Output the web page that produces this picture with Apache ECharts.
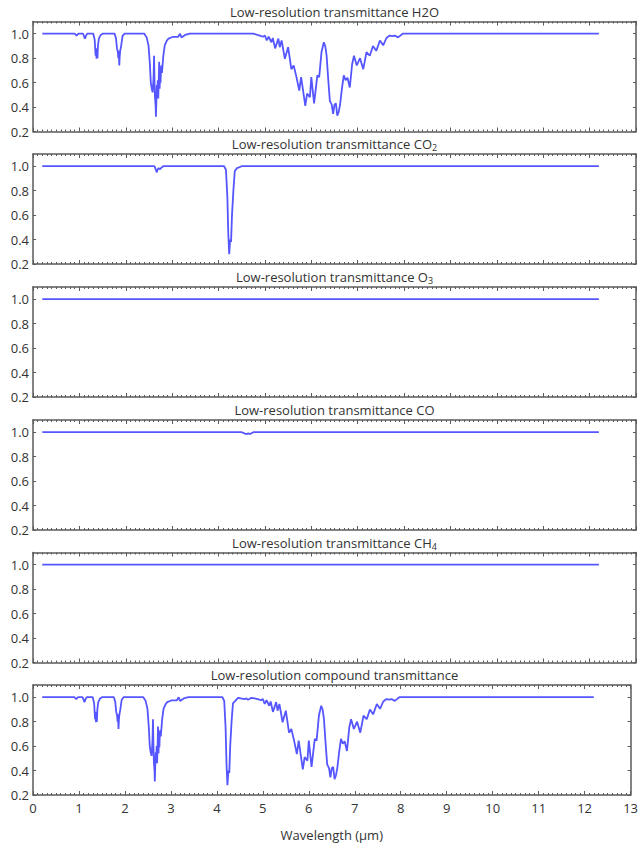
<!DOCTYPE html>
<html>
<head>
<meta charset="utf-8">
<script src="https://cdn.jsdelivr.net/npm/echarts@6/dist/echarts.min.js"></script>
<style>
html,body{margin:0;padding:0;background:#fff;}
#chart{width:641px;height:844px;}
</style>
</head>
<body>
<div id="chart"></div>
<script>
// ---- data ----
const panelTitles = [
  'Low-resolution transmittance H2O',
  'Low-resolution transmittance CO{sub|2}',
  'Low-resolution transmittance O{sub|3}',
  'Low-resolution transmittance CO',
  'Low-resolution transmittance CH{sub|4}',
  'Low-resolution compound transmittance'
];
const xTickLabels = ['0','1','2','3','4','5','6','7','8','9','10','11','12','13'];
const yTickLabels = ['0.2','0.4','0.6','0.8','1.0'];
const xAxisTitle = 'Wavelength (\u00b5m)';

const h2o = [
  [0.2,1.0],[0.9,1.0],[0.94,0.985],[0.98,1.0],[1.08,1.0],[1.12,0.96],[1.15,0.99],[1.17,1.0],
  [1.30,1.0],[1.33,0.95],[1.35,0.82],[1.36,0.88],[1.37,0.795],[1.38,0.86],[1.39,0.80],[1.40,0.9],[1.42,0.96],[1.46,0.99],[1.5,1.0],
  [1.76,1.0],[1.79,0.96],[1.81,0.88],[1.83,0.85],[1.84,0.80],[1.85,0.86],[1.86,0.74],[1.87,0.82],[1.88,0.86],[1.90,0.90],[1.93,0.98],[1.97,1.0],
  [2.40,1.0],[2.45,0.97],[2.49,0.905],[2.52,0.75],[2.54,0.60],[2.56,0.55],[2.58,0.52],[2.60,0.65],[2.61,0.82],[2.62,0.60],[2.63,0.48],[2.645,0.40],[2.65,0.32],[2.66,0.45],[2.67,0.58],[2.68,0.50],[2.69,0.62],[2.70,0.47],[2.71,0.60],[2.72,0.77],[2.73,0.55],[2.74,0.66],[2.75,0.60],[2.76,0.72],[2.77,0.74],[2.78,0.68],[2.81,0.82],[2.84,0.905],[2.88,0.94],[2.92,0.96],[3.02,0.975],[3.13,0.975],[3.17,1.0],[3.20,0.97],[3.24,0.98],[3.28,0.99],[3.38,1.0],
  [4.75,1.0],[4.89,0.985],[4.96,0.975],[5.0,0.985],[5.04,0.945],[5.08,0.975],[5.14,0.93],[5.17,0.965],[5.22,0.88],[5.29,0.96],[5.32,0.89],[5.36,0.945],[5.43,0.795],[5.5,0.89],[5.57,0.71],[5.62,0.74],[5.68,0.645],[5.74,0.535],[5.78,0.645],[5.84,0.49],[5.87,0.41],[5.91,0.51],[5.97,0.48],[6.0,0.645],[6.06,0.43],[6.13,0.66],[6.17,0.645],[6.22,0.85],[6.27,0.93],[6.30,0.90],[6.33,0.82],[6.37,0.60],[6.40,0.45],[6.44,0.42],[6.47,0.345],[6.50,0.42],[6.53,0.43],[6.56,0.33],[6.59,0.36],[6.62,0.42],[6.66,0.55],[6.70,0.66],[6.74,0.62],[6.78,0.64],[6.83,0.56],[6.88,0.75],[6.92,0.82],[6.98,0.74],[7.05,0.80],[7.12,0.71],[7.19,0.85],[7.26,0.82],[7.33,0.90],[7.40,0.86],[7.48,0.945],[7.55,0.905],[7.62,0.965],[7.69,0.985],[7.75,0.98],[7.80,0.985],[7.87,0.97],[7.97,1.0],[12.2,1.0]
];
const co2 = [
  [0.2,1.0],[2.62,1.0],[2.65,0.97],[2.67,0.95],[2.69,0.975],[2.71,0.985],[2.74,0.975],[2.77,0.99],[2.81,1.0],
  [4.12,1.0],[4.16,0.97],[4.19,0.75],[4.21,0.45],[4.23,0.28],[4.25,0.40],[4.27,0.38],[4.29,0.60],[4.32,0.80],[4.35,0.96],[4.40,0.985],[4.50,1.0],[12.2,1.0]
];
const o3 = [[0.2,1.0],[12.2,1.0]];
const co = [[0.2,1.0],[4.50,1.0],[4.56,0.99],[4.60,0.985],[4.64,0.99],[4.68,0.985],[4.75,1.0],[12.2,1.0]];
const ch4 = [[0.2,1.0],[12.2,1.0]];
const compound = [
  [0.2,1.0],[0.9,1.0],[0.94,0.985],[0.98,1.0],[1.08,1.0],[1.12,0.96],[1.15,0.99],[1.17,1.0],
  [1.30,1.0],[1.33,0.95],[1.35,0.82],[1.36,0.88],[1.37,0.795],[1.38,0.86],[1.39,0.80],[1.40,0.9],[1.42,0.96],[1.46,0.99],[1.5,1.0],
  [1.76,1.0],[1.79,0.96],[1.81,0.88],[1.83,0.85],[1.84,0.80],[1.85,0.86],[1.86,0.74],[1.87,0.82],[1.88,0.86],[1.90,0.90],[1.93,0.98],[1.97,1.0],
  [2.40,1.0],[2.45,0.97],[2.49,0.905],[2.52,0.75],[2.54,0.60],[2.56,0.55],[2.58,0.52],[2.60,0.65],[2.61,0.82],[2.62,0.60],[2.63,0.47],[2.645,0.39],[2.65,0.31],[2.66,0.44],[2.67,0.55],[2.68,0.48],[2.69,0.60],[2.70,0.46],[2.71,0.59],[2.72,0.76],[2.73,0.54],[2.74,0.65],[2.75,0.59],[2.76,0.71],[2.77,0.73],[2.78,0.68],[2.81,0.82],[2.84,0.905],[2.88,0.94],[2.92,0.96],[3.02,0.975],[3.13,0.975],[3.17,1.0],[3.20,0.97],[3.24,0.98],[3.28,0.99],[3.38,1.0],
  [4.12,1.0],[4.16,0.97],[4.19,0.75],[4.21,0.45],[4.23,0.28],[4.25,0.40],[4.27,0.38],[4.29,0.60],[4.32,0.80],[4.35,0.95],[4.40,0.97],[4.46,0.995],[4.52,0.99],[4.60,0.985],[4.64,0.99],[4.68,0.98],[4.75,0.995],[4.82,0.99],[4.89,0.985],[4.96,0.975],[5.0,0.985],[5.04,0.945],[5.08,0.975],[5.14,0.93],[5.17,0.965],[5.22,0.88],[5.29,0.96],[5.32,0.89],[5.36,0.945],[5.43,0.795],[5.5,0.89],[5.57,0.71],[5.62,0.74],[5.68,0.645],[5.74,0.535],[5.78,0.645],[5.84,0.49],[5.87,0.41],[5.91,0.51],[5.97,0.48],[6.0,0.645],[6.06,0.43],[6.13,0.66],[6.17,0.645],[6.22,0.85],[6.27,0.93],[6.30,0.90],[6.33,0.82],[6.37,0.60],[6.40,0.45],[6.44,0.42],[6.47,0.345],[6.50,0.42],[6.53,0.43],[6.56,0.33],[6.59,0.36],[6.62,0.42],[6.66,0.55],[6.70,0.66],[6.74,0.62],[6.78,0.64],[6.83,0.56],[6.88,0.75],[6.92,0.82],[6.98,0.74],[7.05,0.80],[7.12,0.71],[7.19,0.85],[7.26,0.82],[7.33,0.90],[7.40,0.86],[7.48,0.945],[7.55,0.905],[7.62,0.965],[7.69,0.985],[7.75,0.98],[7.80,0.985],[7.87,0.97],[7.97,1.0],[12.2,1.0]
];
const seriesData = [h2o, co2, o3, co, ch4, compound];

// ---- layout / style ----
const FONT = 'Open Sans';
const TEXT = '#333';
const FRAME = '#5a5a5a';
const LINE = '#5656ff';
const gridTops = [21.5, 154, 287, 420, 552.5, 685];
const gridH = 110;
const gridL = 33, gridR = 5;

const grids = [], xAxes = [], yAxes = [], series = [], graphics = [];
for (let i = 0; i < 6; i++) {
  grids.push({left: gridL, right: gridR, top: gridTops[i], height: gridH, containLabel: false});
  const last = (i === 5);
  const baseX = {
    type: 'value', gridIndex: i, min: 0, max: 13, interval: 1,
    axisLine: {show: true, onZero: false, lineStyle: {color: FRAME, width: 1.5}},
    axisTick: {show: true, inside: true, length: 4, lineStyle: {color: FRAME, width: 1}},
    minorTick: {show: true, splitNumber: 10, length: 2, lineStyle: {color: FRAME, width: 1}},
    splitLine: {show: false}
  };
  xAxes.push(Object.assign({}, baseX, {
    position: 'bottom',
    axisLabel: {show: last, color: TEXT, fontSize: 13, fontFamily: FONT, margin: 6,
      formatter: v => xTickLabels[Math.round(v)] ?? ''},
    name: last ? xAxisTitle : '',
    nameLocation: 'middle', nameGap: 33,
    nameTextStyle: {color: TEXT, fontSize: 13, fontFamily: FONT}
  }));
  xAxes.push(Object.assign({}, baseX, {position: 'top', axisLabel: {show: false}}));
  const baseY = {
    type: 'value', gridIndex: i, min: 0.2, max: 1.1, interval: 0.2,
    axisLine: {show: true, onZero: false, lineStyle: {color: FRAME, width: 1.5}},
    axisTick: {show: true, inside: true, length: 3, lineStyle: {color: FRAME, width: 1}},
    splitLine: {show: false}
  };
  yAxes.push(Object.assign({}, baseY, {
    position: 'left',
    axisLabel: {show: true, color: TEXT, fontSize: 13, fontFamily: FONT, margin: 4, showMaxLabel: false,
      formatter: v => { const k = Math.round((v - 0.2) / 0.2); return (Math.abs(v - (0.2 + k * 0.2)) < 1e-6 && yTickLabels[k]) ? yTickLabels[k] : ''; }}
  }));
  yAxes.push(Object.assign({}, baseY, {position: 'right', axisLabel: {show: false}}));
  series.push({
    type: 'line', xAxisIndex: 2 * i, yAxisIndex: 2 * i, data: seriesData[i],
    showSymbol: false, symbol: 'none', smooth: false,
    lineStyle: {color: LINE, width: 1.8}, silent: true
  });
  graphics.push({
    type: 'text', x: gridL + (641 - gridL - gridR) / 2, y: gridTops[i] - 10,
    style: {
      text: panelTitles[i], align: 'center', verticalAlign: 'middle',
      fill: TEXT, fontSize: 13, fontFamily: FONT, lineHeight: 16,
      rich: {sub: {fontSize: 9, lineHeight: 9, verticalAlign: 'bottom', fill: TEXT, fontFamily: FONT}}
    }
  });
}

const chart = echarts.init(document.getElementById('chart'), null, {renderer: 'svg'});
chart.setOption({
  animation: false,
  backgroundColor: '#fff',
  grid: grids, xAxis: xAxes, yAxis: yAxes, series: series, graphic: graphics
});
</script>
</body>
</html>
